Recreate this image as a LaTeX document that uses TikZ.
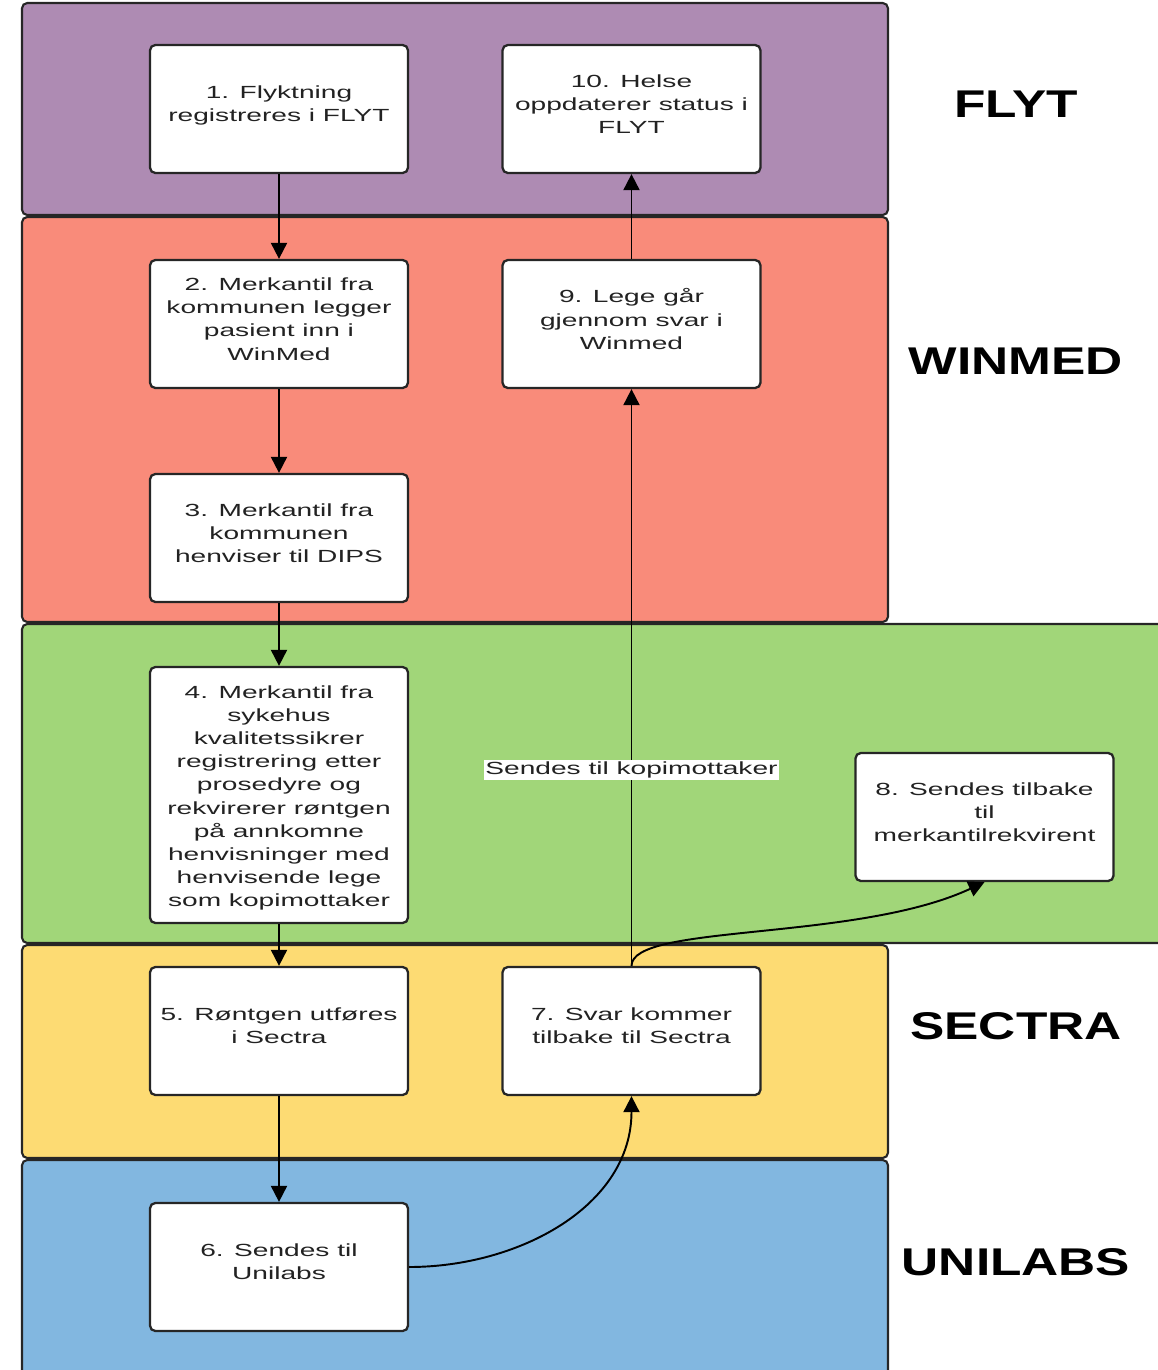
\documentclass[tikz,border=0pt]{standalone}
\usepackage{fontspec}
\setmainfont{Liberation Sans}[FakeStretch=1.6]
\newfontfamily\lanefont{Liberation Sans}[FakeStretch=1.33]
\definecolor{flytpurple}{RGB}{174,139,179}
\definecolor{winmedred}{RGB}{249,139,122}
\definecolor{sykehusgreen}{RGB}{161,214,121}
\definecolor{sectrayellow}{RGB}{253,219,115}
\definecolor{unilabsblue}{RGB}{130,183,224}
\definecolor{boxtext}{RGB}{34,34,34}
\usetikzlibrary{arrows.meta, positioning}

\begin{document}
\begin{tikzpicture}[x=0.02cm, y=-0.02cm,
  lane/.style={draw=black!85, line width=1.2pt, rounded corners=3pt},
  stepbox/.style={draw=black!85, line width=1.3pt, fill=white, rounded corners=3pt,
    minimum width=5.16cm, minimum height=2.56cm, align=center, inner sep=2pt,
    font=\fontsize{10}{13.2}\selectfont, text=boxtext,
    execute at end node={\rule[-0.2cm]{0pt}{0pt}}},
  flow/.style={line width=1.1pt, -{Triangle[length=0.32cm, width=0.32cm]}},
  edgelabel/.style={fill=white, inner sep=1pt, font=\fontsize{10}{12}\selectfont, text=boxtext},
  lanelabel/.style={font=\lanefont\bfseries\fontsize{22}{26}\selectfont}]
  \useasboundingbox (0,0) rectangle (1158,1370);

  \begin{scope}
    \clip (0,0) rectangle (1158,1370);
    \draw[lane, fill=flytpurple] (22,3) rectangle (888,215);
    \draw[lane, fill=winmedred] (22,217) rectangle (888,622);
    \draw[lane, fill=sykehusgreen] (22,624) rectangle (1180,943);
    \draw[lane, fill=sectrayellow] (22,945) rectangle (888,1158);
    \draw[lane, fill=unilabsblue] (22,1160) rectangle (888,1395);
  \end{scope}

  \foreach \y/\l in {104/FLYT, 361/WINMED, 1026/SECTRA, 1262/UNILABS}
    \node[lanelabel] (lbl-\l) at (1016,\y) {\l};

  \node[stepbox] (flyktning) at (279,109) {1. Flyktning\\registreres i FLYT};
  \node[stepbox] (oppdater) at (631.5,109) {10. Helse\\oppdaterer status i\\FLYT};
  \node[stepbox] (innlegg) at (279,324) {2. Merkantil fra\\kommunen legger\\pasient inn i\\WinMed};
  \node[stepbox] (svar) at (631.5,324) {9. Lege går\\gjennom svar i\\Winmed};
  \node[stepbox] (henvis) at (279,538) {3. Merkantil fra\\kommunen\\henviser til DIPS};
  \node[stepbox, minimum height=5.12cm] (kvalitet) at (279,795) {\rule{0pt}{0.5cm}4. Merkantil fra\\sykehus\\kvalitetssikrer\\registrering etter\\prosedyre og\\rekvirerer røntgen\\på annkomne\\henvisninger med\\henvisende lege\\som kopimottaker};
  \node[stepbox] (tilbake) at (984.5,817) {8. Sendes tilbake\\til\\merkantilrekvirent};
  \node[stepbox] (rontgen) at (279,1031) {5. Røntgen utføres\\i Sectra};
  \node[stepbox] (sectra) at (631.5,1031) {7. Svar kommer\\tilbake til Sectra};
  \node[stepbox] (unilabs) at (279,1267) {6. Sendes til\\Unilabs};

  \draw[flow] (flyktning) -- (innlegg);
  \draw[flow] (innlegg) -- (henvis);
  \draw[flow] (henvis) -- (kvalitet);
  \draw[flow] (kvalitet) -- (rontgen);
  \draw[flow] (rontgen) -- (unilabs);
  \draw[flow] (unilabs.east) to[out=0, in=-90] (sectra.south);
  \draw[flow] (sectra) -- node[edgelabel, pos=0.34] {Sendes til kopimottaker} (svar);
  \draw[flow] (sectra.north) to[out=90, in=205, out looseness=0.3] (tilbake.south);
  \draw[flow] (svar) -- (oppdater);
\end{tikzpicture}
\end{document}
